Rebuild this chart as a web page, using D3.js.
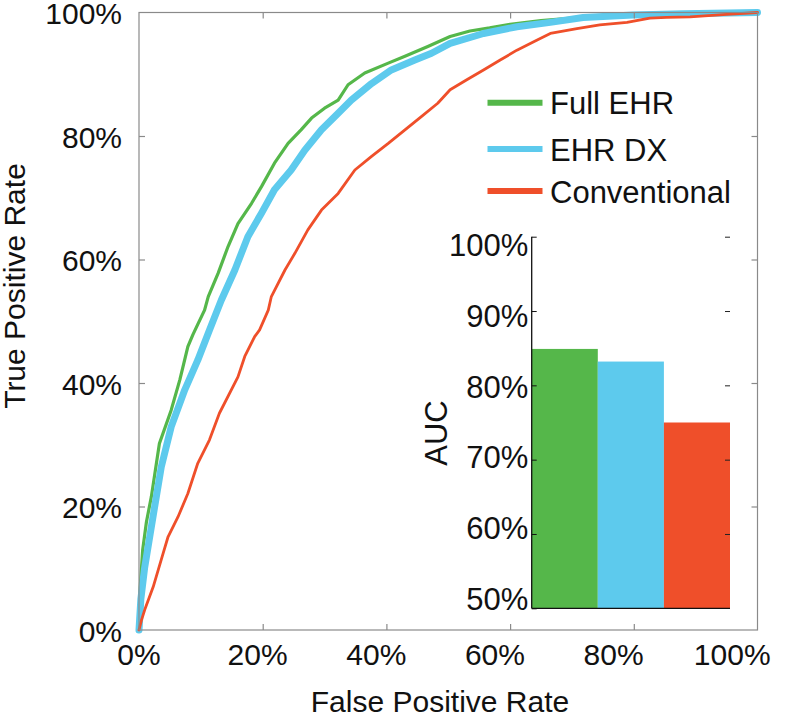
<!DOCTYPE html>
<html>
<head>
<meta charset="utf-8">
<script src="https://cdn.jsdelivr.net/npm/d3@7"></script>
<style>
  html, body { margin: 0; padding: 0; background: #fff; }
  svg { display: block; font-family: "Liberation Sans", Arial, Helvetica, sans-serif; }
</style>
</head>
<body>
<svg id="chart" width="800" height="716"></svg>
<script>
// ---------- DATA ----------
const seriesNames = ["Full EHR", "EHR DX", "Conventional"];
const seriesColors = ["#55b74a", "#5dcaed", "#ef4f2a"];

// ROC curves: [false positive rate, true positive rate]
const rocFullEHR = [[0,0],[0.002,0.07],[0.006,0.13],[0.012,0.175],[0.020,0.216],[0.033,0.302],[0.052,0.356],[0.066,0.405],[0.079,0.459],[0.087,0.478],[0.095,0.495],[0.106,0.518],[0.112,0.540],[0.128,0.578],[0.144,0.621],[0.160,0.658],[0.182,0.691],[0.198,0.718],[0.219,0.756],[0.241,0.788],[0.262,0.810],[0.279,0.829],[0.300,0.845],[0.322,0.858],[0.338,0.883],[0.365,0.902],[0.403,0.918],[0.430,0.929],[0.467,0.945],[0.503,0.961],[0.535,0.970],[0.567,0.975],[0.600,0.981],[0.650,0.987],[0.700,0.991],[0.800,0.996],[0.900,0.999],[1,1]];
const rocEHRDX = [[0,0],[0.003,0.05],[0.009,0.10],[0.018,0.155],[0.027,0.21],[0.036,0.264],[0.052,0.329],[0.074,0.389],[0.095,0.437],[0.114,0.486],[0.133,0.534],[0.155,0.583],[0.176,0.637],[0.198,0.675],[0.219,0.713],[0.246,0.745],[0.268,0.777],[0.295,0.810],[0.322,0.837],[0.343,0.858],[0.376,0.885],[0.408,0.907],[0.446,0.923],[0.473,0.934],[0.503,0.950],[0.557,0.966],[0.611,0.977],[0.665,0.984],[0.718,0.992],[0.799,0.996],[0.880,0.998],[1,1]];
const rocConventional = [[0,0],[0.004,0.016],[0.010,0.035],[0.023,0.070],[0.039,0.124],[0.047,0.151],[0.063,0.183],[0.079,0.221],[0.095,0.270],[0.114,0.308],[0.130,0.351],[0.160,0.410],[0.171,0.443],[0.187,0.475],[0.195,0.486],[0.209,0.518],[0.214,0.540],[0.236,0.583],[0.252,0.610],[0.273,0.648],[0.295,0.680],[0.322,0.707],[0.349,0.745],[0.376,0.767],[0.403,0.788],[0.430,0.810],[0.456,0.831],[0.483,0.853],[0.503,0.875],[0.530,0.891],[0.557,0.907],[0.584,0.923],[0.611,0.939],[0.643,0.955],[0.665,0.966],[0.708,0.974],[0.745,0.980],[0.789,0.984],[0.826,0.991],[0.853,0.992],[0.891,0.993],[0.950,0.997],[1,1]];

// Inset AUC bars
const aucValues = [0.849, 0.832, 0.750];

// Tick values
const mainTicks = [0, 0.2, 0.4, 0.6, 0.8, 1.0];
const insetTicks = [0.5, 0.6, 0.7, 0.8, 0.9, 1.0];

// ---------- LAYOUT ----------
const svg = d3.select("#chart");
const pct = d => Math.round(d * 100) + "%";
const FONT = 30;
const frameColor = "#8a8a8a";

const x = d3.scaleLinear().domain([0, 1]).range([139, 757.5]);
const y = d3.scaleLinear().domain([0, 1]).range([630, 12.5]);
// label placement scale (labels in the reference are slightly compressed)
const xLab = d3.scaleLinear().domain([0, 1]).range([138.5, 731.7]);

// Curves
const rocs = [rocFullEHR, rocEHRDX, rocConventional];
const widths = [3.2, 7, 2.8];
const line = d3.line().x(d => x(d[0])).y(d => y(d[1])).curve(d3.curveLinear);
rocs.forEach((r, i) => {
  svg.append("path").datum(r)
    .attr("d", line)
    .attr("fill", "none")
    .attr("stroke", seriesColors[i])
    .attr("stroke-width", widths[i])
    .attr("stroke-linejoin", "round")
    .attr("stroke-linecap", "round");
});

// Frame
svg.append("rect")
  .attr("x", x(0)).attr("y", y(1))
  .attr("width", x(1) - x(0)).attr("height", y(0) - y(1))
  .attr("fill", "none").attr("stroke", frameColor).attr("stroke-width", 1.2);

// Tick marks (inward), all four sides
function tickAxis(axis, transform) {
  const g = svg.append("g").attr("transform", transform).call(axis);
  g.select(".domain").remove();
  g.selectAll(".tick line").attr("stroke", frameColor).attr("stroke-width", 1.2);
  g.selectAll(".tick text").remove();
  return g;
}
const inner = mainTicks.slice(1, -1);
tickAxis(d3.axisBottom(x).tickValues(inner).tickSize(-6), `translate(0,${y(0)})`);
tickAxis(d3.axisTop(x).tickValues(inner).tickSize(-6), `translate(0,${y(1)})`);
tickAxis(d3.axisLeft(y).tickValues(inner).tickSize(-6), `translate(${x(0)},0)`);
tickAxis(d3.axisRight(y).tickValues(inner).tickSize(-6), `translate(${x(1)},0)`);

// Tick labels
const xl = svg.append("g").attr("transform", `translate(0,${y(0)})`)
  .call(d3.axisBottom(xLab).tickValues(mainTicks).tickFormat(pct).tickSize(0).tickPadding(14));
xl.select(".domain").remove();
xl.selectAll("text").attr("font-size", FONT).attr("font-family", "Liberation Sans, Arial, sans-serif").attr("fill", "#111");

const yl = svg.append("g").attr("transform", `translate(${x(0)},1.5)`)
  .call(d3.axisLeft(y).tickValues(mainTicks).tickFormat(pct).tickSize(0).tickPadding(17));
yl.select(".domain").remove();
yl.selectAll("text").attr("font-size", FONT).attr("font-family", "Liberation Sans, Arial, sans-serif").attr("fill", "#111");

// Axis titles
svg.append("text")
  .attr("x", 440).attr("y", 712)
  .attr("text-anchor", "middle").attr("font-size", FONT).attr("fill", "#111")
  .text("False Positive Rate");
svg.append("text")
  .attr("transform", "translate(25,286) rotate(-90)")
  .attr("text-anchor", "middle").attr("font-size", FONT).attr("fill", "#111")
  .text("True Positive Rate");

// Legend
const legY = [102.7, 149, 191];
seriesNames.forEach((name, i) => {
  svg.append("line")
    .attr("x1", 487.5).attr("x2", 542.5)
    .attr("y1", legY[i]).attr("y2", legY[i])
    .attr("stroke", seriesColors[i]).attr("stroke-width", 6);
  svg.append("text")
    .attr("x", 550).attr("y", legY[i] + 11.5)
    .attr("font-size", 31).attr("fill", "#111")
    .text(name);
});

// ---------- INSET ----------
const xi = d3.scaleBand().domain(seriesNames).range([531.7, 730]).padding(0);
const yi = d3.scaleLinear().domain([0.5, 1]).range([608.3, 236.7]);
const yiLab = d3.scaleLinear().domain([0.5, 1]).range([598, 244]);

svg.append("rect")
  .attr("x", 531.7).attr("y", yi(1))
  .attr("width", 730 - 531.7).attr("height", yi(0.5) - yi(1))
  .attr("fill", "#fff");

svg.selectAll("rect.bar").data(aucValues).enter().append("rect")
  .attr("class", "bar")
  .attr("x", (d, i) => xi(seriesNames[i]))
  .attr("width", xi.bandwidth())
  .attr("y", d => yi(d))
  .attr("height", d => yi(0.5) - yi(d))
  .attr("fill", (d, i) => seriesColors[i]);

// inset left axis line + inward ticks
const il = svg.append("g").attr("transform", `translate(${xi.range()[0]},0)`)
  .call(d3.axisLeft(yi).tickValues(insetTicks).tickSize(-5).tickFormat(""));
il.select(".domain").remove();
il.selectAll(".tick line").attr("stroke", "#111");
svg.append("line")
  .attr("x1", xi.range()[0]).attr("x2", xi.range()[0])
  .attr("y1", yi(1)).attr("y2", yi(0.5))
  .attr("stroke", "#111").attr("stroke-width", 1.3);
// inset right ticks (no line)
const ir = svg.append("g").attr("transform", `translate(${xi.range()[1]},0)`)
  .call(d3.axisRight(yi).tickValues(insetTicks.slice(1)).tickSize(-5).tickFormat(""));
ir.select(".domain").remove();
ir.selectAll(".tick line").attr("stroke", "#222");
// inset bottom line
svg.append("line")
  .attr("x1", xi.range()[0]).attr("x2", xi.range()[1])
  .attr("y1", yi(0.5)).attr("y2", yi(0.5))
  .attr("stroke", "#111").attr("stroke-width", 1.3);

// inset labels
const ilab = svg.append("g").attr("transform", `translate(${xi.range()[0]},1.5)`)
  .call(d3.axisLeft(yiLab).tickValues(insetTicks).tickFormat(pct).tickSize(0).tickPadding(3.5));
ilab.select(".domain").remove();
ilab.selectAll("text").attr("font-size", 31).attr("font-family", "Liberation Sans, Arial, sans-serif").attr("fill", "#111");

svg.append("text")
  .attr("transform", "translate(446.5,433) rotate(-90)")
  .attr("text-anchor", "middle").attr("font-size", 31).attr("fill", "#111")
  .text("AUC");
</script>
</body>
</html>
